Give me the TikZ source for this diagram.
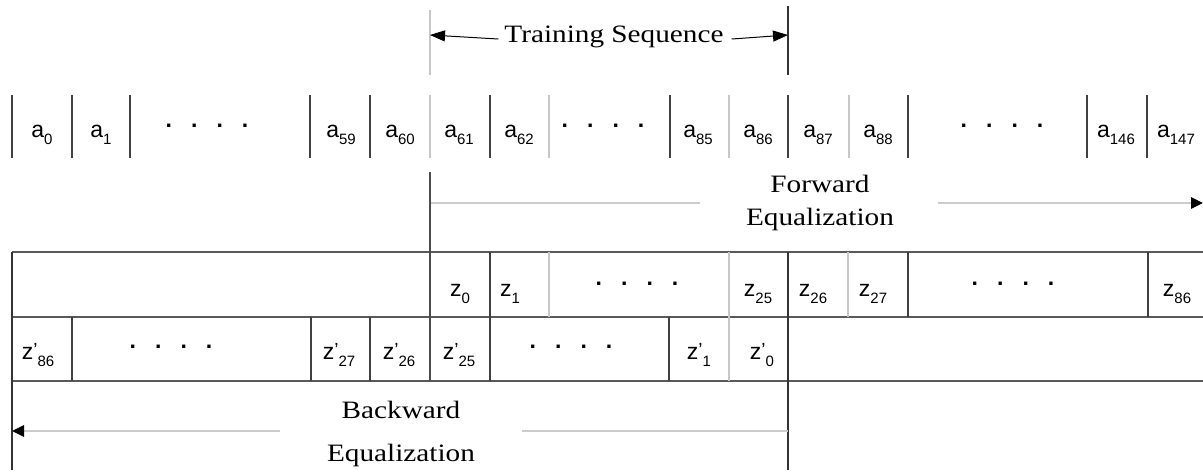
\documentclass[tikz,border=0pt]{standalone}
\usepackage{fontspec}
\setsansfont{Liberation Sans}
\newfontfamily\widserif[FakeStretch=1.17]{Liberation Serif}
\usetikzlibrary{arrows.meta}
\newcommand{\sublab}[2]{#1\raisebox{-7pt}{\fontsize{15}{15}\selectfont #2}}
\newcommand{\primelab}[2]{#1\raisebox{3pt}{\fontsize{19}{19}\selectfont '}\raisebox{-7pt}{\fontsize{15}{15}\selectfont #2}}
\newcommand{\fourdots}{{\bfseries .\hspace{19pt}.\hspace{19pt}.\hspace{19pt}.}}
\tikzset{
  cell/.style={font=\sffamily\fontsize{23}{23}\selectfont, inner sep=0pt, anchor=base},
  title/.style={font=\widserif\fontsize{25}{25}\selectfont, inner sep=0pt, anchor=base},
  sepdark/.style={draw=black!75, line width=1.2pt},
  sepgrey/.style={draw=black!22, line width=2.2pt},
  rowline/.style={draw=black!65, line width=2.6pt},
  bound/.style={draw=black!80, line width=1.2pt},
  heavy/.style={draw=black!70, line width=2.6pt},
  flow/.style={draw=black!20, line width=2.6pt},
  tipflow/.style={-{Triangle[length=12pt,width=11pt,color=black]}},
  tiptrain/.style={draw=black, line width=1pt, -{Triangle[length=15pt,width=11pt]}}
}
\begin{document}
\begin{tikzpicture}[x=1pt,y=-1pt]
\useasboundingbox (0,0) rectangle (1203,474);

% ---------- Training sequence ----------
\draw[sepgrey] (430,10) -- (430,75);
\draw[bound] (788,6) -- (788,75);
\node[title, anchor=center] (ts) at (614,37) {Training Sequence};
\coordinate (tsL) at (430,35);
\coordinate (tsR) at (788,35);
\draw[tiptrain] ([xshift=-6pt,yshift=-2pt]ts.west) -- (tsL);
\draw[tiptrain] ([xshift=8pt,yshift=-2pt]ts.east) -- (tsR);

% ---------- a row ----------
\foreach \x in {12,72,130,310,370,490,670,788,908,1087,1147}
  \draw[sepdark] (\x,95) -- (\x,158);
\foreach \x in {430,549,729,849}
  \draw[sepgrey] (\x,95) -- (\x,158);
\node[cell] (a0) at (42,137) {\sublab{a}{0}};
\node[cell] (a1) at (101,137) {\sublab{a}{1}};
\node[cell] (ad1) at (207,127) {\fourdots};
\node[cell] (a59) at (341,137) {\sublab{a}{59}};
\node[cell] (a60) at (400,137) {\sublab{a}{60}};
\node[cell] (a61) at (459,137) {\sublab{a}{61}};
\node[cell] (a62) at (519,137) {\sublab{a}{62}};
\node[cell] (ad2) at (603,127) {\fourdots};
\node[cell] (a85) at (698,137) {\sublab{a}{85}};
\node[cell] (a86) at (758,137) {\sublab{a}{86}};
\node[cell] (a87) at (818,137) {\sublab{a}{87}};
\node[cell] (a88) at (878,137) {\sublab{a}{88}};
\node[cell] (ad3) at (1002,127) {\fourdots};
\node[cell] (a146) at (1116,137) {\sublab{a}{146}};
\node[cell] (a147) at (1176,137) {\sublab{a}{147}};

% ---------- Forward equalization ----------
\coordinate (fwS) at (430,203);
\coordinate (fwE) at (1203,203);
\node[title, anchor=center] (fw1) at (820,184) {Forward};
\node[title, anchor=center] (fw2) at (820,219) {Equalization};
\draw[flow] (fwS) -- (700,203);
\draw[flow, tipflow] (938,203) -- (fwE);

% ---------- z rows ----------
\draw[rowline] (12,252) -- (1203,252);
\draw[rowline] (12,317) -- (1203,317);
\draw[rowline] (12,381) -- (1203,381);
\draw[bound] (12,252) -- (12,470);
\draw[bound] (788,252) -- (788,470);
\draw[heavy] (430,172) -- (430,381);
% z row separators
\foreach \x in {490,908,1148}
  \draw[sepdark] (\x,252) -- (\x,317);
\foreach \x in {549,729,848}
  \draw[sepgrey] (\x,252) -- (\x,317);
% z' row separators
\foreach \x in {72,311,370,490,669}
  \draw[sepdark] (\x,317) -- (\x,381);
\draw[sepgrey] (729,317) -- (729,381);

\node[cell] (z0) at (460,296) {\sublab{z}{0}};
\node[cell] (z1) at (510,296) {\sublab{z}{1}};
\node[cell] (zd1) at (637,285) {\fourdots};
\node[cell] (z25) at (758,296) {\sublab{z}{25}};
\node[cell] (z26) at (813,296) {\sublab{z}{26}};
\node[cell] (z27) at (873,296) {\sublab{z}{27}};
\node[cell] (zd2) at (1013,285) {\fourdots};
\node[cell] (z86) at (1177,296) {\sublab{z}{86}};

\node[cell] (p86) at (38,359) {\primelab{z}{86}};
\node[cell] (pd1) at (171,348) {\fourdots};
\node[cell] (p27) at (339,359) {\primelab{z}{27}};
\node[cell] (p26) at (399,359) {\primelab{z}{26}};
\node[cell] (p25) at (459,359) {\primelab{z}{25}};
\node[cell] (pd2) at (571,348) {\fourdots};
\node[cell] (p1) at (699,359) {\primelab{z}{1}};
\node[cell] (p0) at (762,359) {\primelab{z}{0}};

% ---------- Backward equalization ----------
\coordinate (bwS) at (788,431);
\coordinate (bwE) at (12,431);
\node[title, anchor=center] (bw1) at (401,410) {Backward};
\node[title, anchor=center] (bw2) at (401,455) {Equalization};
\draw[flow] (bwS) -- (522,431);
\draw[flow, tipflow] (280,431) -- (bwE);
\end{tikzpicture}
\end{document}
